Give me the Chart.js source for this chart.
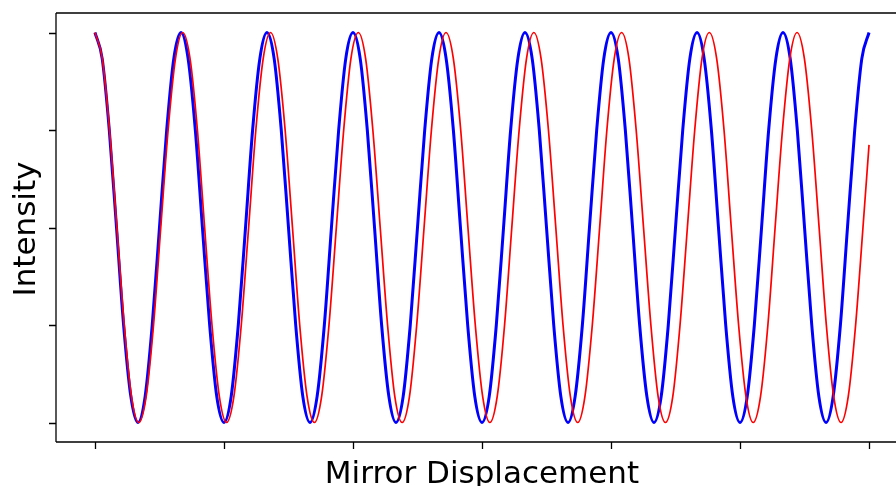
<!DOCTYPE html>
<html>
<head>
<meta charset="utf-8">
<title>Mirror Displacement</title>
<script src="https://cdn.jsdelivr.net/npm/chart.js@4/dist/chart.umd.min.js"></script>
<style>
  html, body { margin: 0; padding: 0; background: #fff; overflow: hidden; }
  #wrap { width: 896px; height: 486px; }
</style>
</head>
<body>
<div id="wrap"><canvas id="fringes" width="896" height="486"></canvas></div>
<script>
// Samples of each interferogram: displacement (x) and normalised intensity (y)
var blueDisplacement = [
  0, 0.056, 0.111, 0.167, 0.222, 0.278, 0.333, 0.389, 0.444, 0.5, 0.556, 0.611, 0.667, 0.722, 0.778, 0.833, 0.889, 0.944,
  1, 1.056, 1.111, 1.167, 1.222, 1.278, 1.333, 1.389, 1.444, 1.5, 1.556, 1.611, 1.667, 1.722, 1.778, 1.833, 1.889, 1.944,
  2, 2.056, 2.111, 2.167, 2.222, 2.278, 2.333, 2.389, 2.444, 2.5, 2.556, 2.611, 2.667, 2.722, 2.778, 2.833, 2.889, 2.944,
  3, 3.056, 3.111, 3.167, 3.222, 3.278, 3.333, 3.389, 3.444, 3.5, 3.556, 3.611, 3.667, 3.722, 3.778, 3.833, 3.889, 3.944,
  4, 4.056, 4.111, 4.167, 4.222, 4.278, 4.333, 4.389, 4.444, 4.5, 4.556, 4.611, 4.667, 4.722, 4.778, 4.833, 4.889, 4.944,
  5, 5.056, 5.111, 5.167, 5.222, 5.278, 5.333, 5.389, 5.444, 5.5, 5.556, 5.611, 5.667, 5.722, 5.778, 5.833, 5.889, 5.944,
  6
];
var blueIntensity = [
  1, 0.933, 0.75, 0.5, 0.25, 0.067, 0, 0.067, 0.25, 0.5, 0.75, 0.933,
  1, 0.933, 0.75, 0.5, 0.25, 0.067, 0, 0.067, 0.25, 0.5, 0.75, 0.933,
  1, 0.933, 0.75, 0.5, 0.25, 0.067, 0, 0.067, 0.25, 0.5, 0.75, 0.933,
  1, 0.933, 0.75, 0.5, 0.25, 0.067, 0, 0.067, 0.25, 0.5, 0.75, 0.933,
  1, 0.933, 0.75, 0.5, 0.25, 0.067, 0, 0.067, 0.25, 0.5, 0.75, 0.933,
  1, 0.933, 0.75, 0.5, 0.25, 0.067, 0, 0.067, 0.25, 0.5, 0.75, 0.933,
  1, 0.933, 0.75, 0.5, 0.25, 0.067, 0, 0.067, 0.25, 0.5, 0.75, 0.933,
  1, 0.933, 0.75, 0.5, 0.25, 0.067, 0, 0.067, 0.25, 0.5, 0.75, 0.933,
  1, 0.933, 0.75, 0.5, 0.25, 0.067, 0, 0.067, 0.25, 0.5, 0.75, 0.933,
  1
];
var redDisplacement = [
  0, 0.057, 0.113, 0.170, 0.227, 0.283, 0.340, 0.397, 0.454, 0.510, 0.567, 0.624,
  0.680, 0.737, 0.794, 0.850, 0.907, 0.964, 1.020, 1.077, 1.134, 1.191, 1.247, 1.304,
  1.361, 1.417, 1.474, 1.531, 1.587, 1.644, 1.701, 1.757, 1.814, 1.871, 1.928, 1.984,
  2.041, 2.098, 2.154, 2.211, 2.268, 2.324, 2.381, 2.438, 2.494, 2.551, 2.608, 2.665,
  2.721, 2.778, 2.835, 2.891, 2.948, 3.005, 3.061, 3.118, 3.175, 3.231, 3.288, 3.345,
  3.402, 3.458, 3.515, 3.572, 3.628, 3.685, 3.742, 3.798, 3.855, 3.912, 3.968, 4.025,
  4.082, 4.139, 4.195, 4.252, 4.309, 4.365, 4.422, 4.479, 4.535, 4.592, 4.649, 4.705,
  4.762, 4.819, 4.876, 4.932, 4.989, 5.046, 5.102, 5.159, 5.216, 5.272, 5.329, 5.386,
  5.442, 5.499, 5.556, 5.613, 5.669, 5.726, 5.783, 5.839, 5.896, 5.953, 6
];
var redIntensity = [
  1, 0.933, 0.75, 0.5, 0.25, 0.067, 0, 0.067, 0.25, 0.5, 0.75, 0.933,
  1, 0.933, 0.75, 0.5, 0.25, 0.067, 0, 0.067, 0.25, 0.5, 0.75, 0.933,
  1, 0.933, 0.75, 0.5, 0.25, 0.067, 0, 0.067, 0.25, 0.5, 0.75, 0.933,
  1, 0.933, 0.75, 0.5, 0.25, 0.067, 0, 0.067, 0.25, 0.5, 0.75, 0.933,
  1, 0.933, 0.75, 0.5, 0.25, 0.067, 0, 0.067, 0.25, 0.5, 0.75, 0.933,
  1, 0.933, 0.75, 0.5, 0.25, 0.067, 0, 0.067, 0.25, 0.5, 0.75, 0.933,
  1, 0.933, 0.75, 0.5, 0.25, 0.067, 0, 0.067, 0.25, 0.5, 0.75, 0.933,
  1, 0.933, 0.75, 0.5, 0.25, 0.067, 0, 0.067, 0.25, 0.5, 0.75, 0.933,
  1, 0.933, 0.75, 0.5, 0.25, 0.067, 0, 0.067, 0.25, 0.5, 0.712
];
var xTicks = [0, 1, 2, 3, 4, 5, 6];
var yTicks = [0, 0.25, 0.5, 0.75, 1];

function pairs(xs, ys) {
  return xs.map(function(x, i) { return { x: x, y: ys[i] }; });
}

// Frame on left/top/bottom, outward ticks, axis titles
var axesPlugin = {
  id: 'axesFrame',
  afterDraw: function(chart) {
    var ctx = chart.ctx;
    var a = chart.chartArea;
    var xs = chart.scales.x, ys = chart.scales.y;
    ctx.save();
    ctx.strokeStyle = '#000';
    ctx.lineWidth = 1.3;
    ctx.beginPath();
    ctx.moveTo(a.left, a.top); ctx.lineTo(chart.width, a.top);
    ctx.moveTo(a.left, a.top); ctx.lineTo(a.left, a.bottom);
    ctx.moveTo(a.left, a.bottom); ctx.lineTo(chart.width, a.bottom);
    xTicks.forEach(function(v) {
      var px = Math.round(xs.getPixelForValue(v)) + 0.5;
      ctx.moveTo(px, a.bottom); ctx.lineTo(px, a.bottom + 7);
    });
    yTicks.forEach(function(v) {
      var py = Math.round(ys.getPixelForValue(v)) + 0.5;
      ctx.moveTo(a.left, py); ctx.lineTo(a.left - 7, py);
    });
    ctx.stroke();

    ctx.fillStyle = '#000';
    ctx.font = '31px "DejaVu Sans"';
    ctx.textAlign = 'center';
    ctx.textBaseline = 'alphabetic';
    ctx.fillText('Mirror Displacement', 482, 483);

    ctx.translate(35, 229);
    ctx.rotate(-Math.PI / 2);
    ctx.fillText('Intensity', 0, 0);
    ctx.restore();
  }
};

var ctx = document.getElementById('fringes').getContext('2d');
var chart = new Chart(ctx, {
  type: 'line',
  data: {
    datasets: [
      {
        label: 'red',
        data: pairs(redDisplacement, redIntensity),
        borderColor: '#ff0000',
        borderWidth: 1.7,
        pointRadius: 0,
        cubicInterpolationMode: 'monotone',
        fill: false,
        order: 0
      },
      {
        label: 'blue',
        data: pairs(blueDisplacement, blueIntensity),
        borderColor: '#0000ff',
        borderWidth: 3,
        pointRadius: 0,
        cubicInterpolationMode: 'monotone',
        fill: false,
        order: 1
      }
    ]
  },
  options: {
    responsive: false,
    animation: false,
    layout: { padding: { left: 56, top: 13, right: 0, bottom: 44 } },
    plugins: { legend: { display: false }, tooltip: { enabled: false } },
    scales: {
      x: { type: 'linear', min: -0.302, max: 6.209, display: false },
      y: { type: 'linear', min: -0.05, max: 1.05, display: false }
    }
  },
  plugins: [axesPlugin]
});
</script>
</body>
</html>
